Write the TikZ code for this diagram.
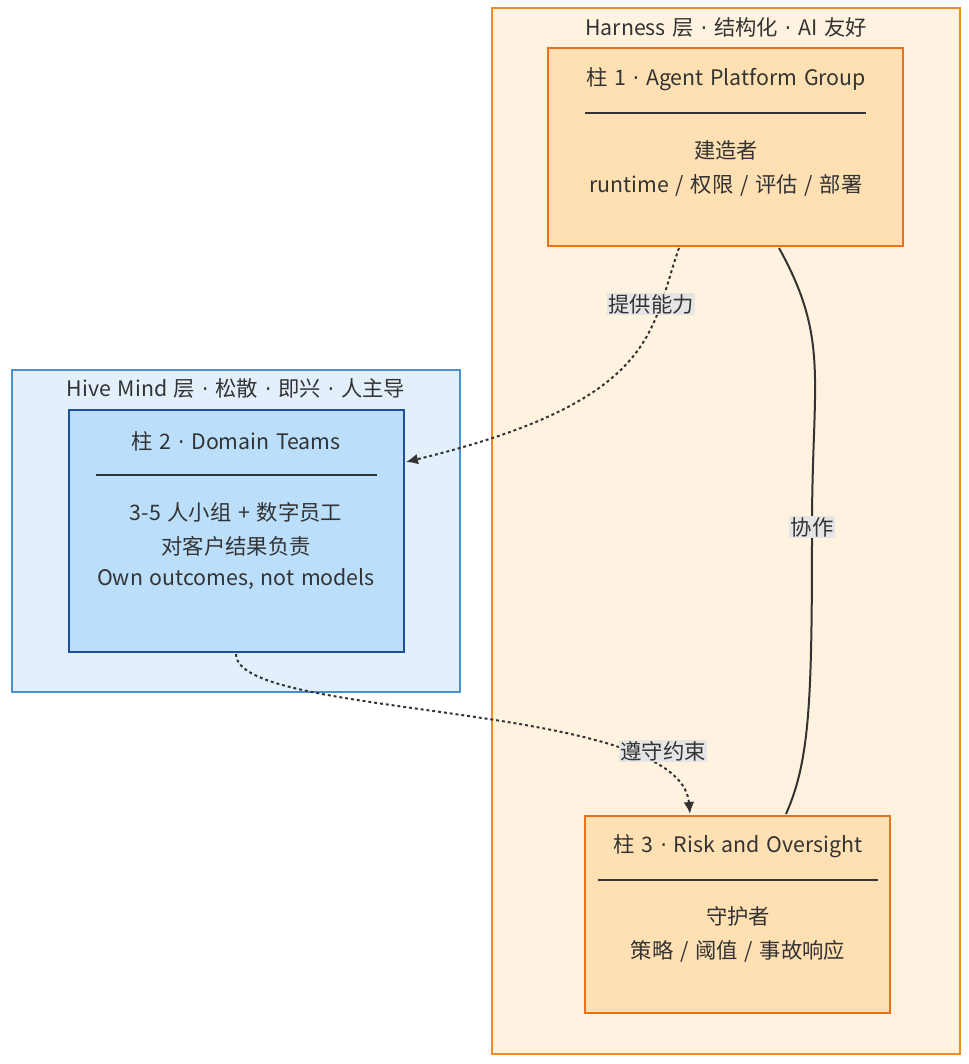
\documentclass[tikz,border=0pt]{standalone}
\usepackage{fontspec}
\setmainfont{Noto Sans CJK SC}[WordSpace={1.4}]
\newfontfamily\dotfont{DejaVu Sans}
\newcommand{\md}{{\dotfont ·}}
\usetikzlibrary{arrows.meta}
\definecolor{harnessfill}{HTML}{FFF3E0}
\definecolor{harnessdraw}{HTML}{F08C28}
\definecolor{hivefill}{HTML}{E3F0FC}
\definecolor{hivedraw}{HTML}{4A8FD4}
\definecolor{pillfill}{HTML}{FFE0B2}
\definecolor{pilldraw}{HTML}{E8711A}
\definecolor{teamfill}{HTML}{BBDEFB}
\definecolor{teamdraw}{HTML}{1E4F9A}
\definecolor{edgecol}{HTML}{333333}
\tikzset{
  every node/.style={font=\fontsize{16}{19}\selectfont, text=edgecol},
  layer/.style={draw, line width=1.5pt},
  pillar/.style={draw, line width=1.5pt},
  rule/.style={edgecol, line width=1.5pt},
  lbl/.style={fill=black!10, inner sep=1pt},
  flow/.style={edgecol, line width=1.5pt, dash pattern=on 2.2pt off 2.2pt, -{Latex[length=9pt,width=8pt]}},
  link/.style={edgecol, line width=1.5pt},
}
\begin{document}
\begin{tikzpicture}[x=0.75pt,y=-0.75pt]
  \useasboundingbox (0,0) rectangle (968,1064);
  % layers
  \draw[layer, fill=harnessfill, draw=harnessdraw] (492,8) rectangle (960,1054);
  \node (harness) at (726,27) {Harness 层 \md{} 结构化 \md{} AI 友好};
  \draw[layer, fill=hivefill, draw=hivedraw] (12,370) rectangle (460,692);
  \node (hive) at (236,388) {Hive Mind 层 \md{} 松散 \md{} 即兴 \md{} 人主导};

  % pillars
  \draw[pillar, fill=pillfill, draw=pilldraw] (548,48) rectangle (903,246);
  \node at (726,79) {柱 1 \md{} Agent Platform Group};
  \draw[rule] (585,113) -- (866,113);
  \node at (726,150) {建造者};
  \node at (726,185) {runtime / 权限 / 评估 / 部署};

  \draw[pillar, fill=teamfill, draw=teamdraw] (69,410) rectangle (404,652);
  \node at (236,441) {柱 2 \md{} Domain Teams};
  \draw[rule] (96,475) -- (377,475);
  \node at (236,512) {3-5 人小组 + 数字员工};
  \node at (236,546) {对客户结果负责};
  \node at (236,579) {Own outcomes, not models};

  \draw[pillar, fill=pillfill, draw=pilldraw] (585,816) rectangle (890,1013);
  \node at (738,846) {柱 3 \md{} Risk and Oversight};
  \draw[rule] (598,880) -- (878,880);
  \node at (738,916) {守护者};
  \node at (738,951) {策略 / 阈值 / 事故响应};

  % anchors on pillar borders
  \coordinate (a1) at (679,248);
  \coordinate (b1) at (779,248);
  \coordinate (a2) at (406,462);
  \coordinate (b2) at (236,654);
  \coordinate (a3) at (690,814);
  \coordinate (b3) at (786,814);

  % connectors
  \draw[flow] (a1) .. controls (650,330) and (660,400) .. (a2);
  \node[lbl] at (651,304) {提供能力};
  \draw[link] (b1) .. controls (830,340) and (812,380) .. (812,527)
     .. controls (812,700) and (810,760) .. (b3);
  \node[lbl] at (812,527) {协作};
  \draw[flow] (b2) .. controls (236,720) and (680,700) .. (a3);
  \node[lbl] at (663,751) {遵守约束};
\end{tikzpicture}
\end{document}
